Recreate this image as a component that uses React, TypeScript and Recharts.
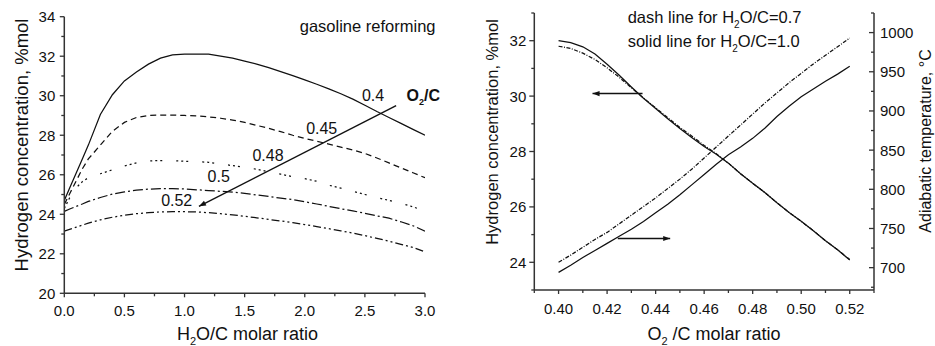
import React from 'react';
import { LineChart, Line, XAxis, YAxis } from 'recharts';

// ---------- Left panel: H2 concentration vs H2O/C for several O2/C ----------
const h2oRatio = [0, 0.05, 0.1, 0.15, 0.2, 0.3, 0.4, 0.5, 0.6, 0.7, 0.8, 0.9, 1.0, 1.1, 1.2, 1.3, 1.4, 1.5, 1.6, 1.7, 1.8, 1.9, 2.0, 2.1, 2.2, 2.3, 2.4, 2.5, 2.6, 2.7, 2.8, 2.9, 3.0];
const h2AtO2C040 = [24.7, 25.4, 26.1, 26.8, 27.5, 29.05, 30.05, 30.75, 31.2, 31.6, 31.9, 32.07, 32.1, 32.1, 32.1, 32.0, 31.9, 31.75, 31.6, 31.42, 31.22, 31.02, 30.8, 30.58, 30.35, 30.1, 29.83, 29.52, 29.2, 28.9, 28.6, 28.3, 28.0];
const h2AtO2C045 = [24.5, 25.1, 25.7, 26.3, 26.8, 27.5, 28.2, 28.65, 28.9, 29.0, 29.02, 29.02, 29.0, 28.98, 28.93, 28.86, 28.77, 28.65, 28.5, 28.35, 28.18, 28.0, 27.84, 27.7, 27.55, 27.4, 27.25, 27.08, 26.85, 26.6, 26.35, 26.1, 25.85];
const h2AtO2C048 = [24.3, 24.9, 25.35, 25.65, 25.85, 26.05, 26.25, 26.45, 26.6, 26.7, 26.72, 26.72, 26.68, 26.66, 26.63, 26.55, 26.46, 26.38, 26.28, 26.15, 26.03, 25.9, 25.8, 25.67, 25.47, 25.32, 25.16, 25.0, 24.85, 24.7, 24.55, 24.38, 24.15];
const h2AtO2C050 = [24.15, 24.28, 24.4, 24.52, 24.65, 24.85, 25.02, 25.13, 25.22, 25.27, 25.3, 25.3, 25.28, 25.24, 25.2, 25.16, 25.12, 25.06, 24.98, 24.9, 24.82, 24.74, 24.63, 24.52, 24.4, 24.28, 24.17, 24.05, 23.92, 23.8, 23.62, 23.42, 23.15];
const h2AtO2C052 = [23.15, 23.25, 23.35, 23.45, 23.55, 23.72, 23.85, 23.95, 24.03, 24.08, 24.12, 24.13, 24.13, 24.12, 24.08, 24.03, 23.97, 23.9, 23.82, 23.74, 23.66, 23.58, 23.48, 23.38, 23.27, 23.16, 23.05, 22.92, 22.78, 22.64, 22.48, 22.32, 22.1];
const o2cArrowX = [1.12, 2.76];
const o2cArrowY = [24.4, 29.5];

const leftXTicks = [0, 0.25, 0.5, 0.75, 1.0, 1.25, 1.5, 1.75, 2.0, 2.25, 2.5, 2.75, 3.0];
const leftXMajor = [0, 0.5, 1.0, 1.5, 2.0, 2.5, 3.0];
const leftYTicks = [20, 21, 22, 23, 24, 25, 26, 27, 28, 29, 30, 31, 32, 33, 34];
const leftYMajor = [20, 22, 24, 26, 28, 30, 32, 34];

// ---------- Right panel: H2 and adiabatic temperature vs O2/C ----------
const o2cRatio = [0.4, 0.405, 0.41, 0.415, 0.42, 0.425, 0.43, 0.435, 0.44, 0.445, 0.45, 0.455, 0.46, 0.465, 0.47, 0.475, 0.48, 0.485, 0.49, 0.495, 0.5, 0.505, 0.51, 0.515, 0.52];
const h2Steam10 = [32.0, 31.93, 31.78, 31.52, 31.15, 30.75, 30.33, 29.92, 29.55, 29.18, 28.83, 28.5, 28.18, 27.9, 27.58, 27.2, 26.85, 26.52, 26.15, 25.8, 25.48, 25.14, 24.78, 24.45, 24.08];
const h2Steam07 = [31.8, 31.72, 31.55, 31.32, 31.02, 30.68, 30.3, 29.93, 29.58, 29.22, 28.87, 28.55, 28.22, 27.92, 27.58, 27.2, 26.85, 26.52, 26.15, 25.8, 25.48, 25.14, 24.78, 24.45, 24.1];
const tempSteam10 = [694, 703, 713, 722, 731, 740, 749, 759, 770, 781, 793, 806, 819, 832, 844, 854, 865, 878, 893, 906, 918, 928, 938, 947, 957];
const tempSteam07 = [707, 716, 726, 736, 745, 756, 767, 778, 789, 801, 813, 826, 840, 854, 868, 882, 896, 910, 923, 936, 948, 960, 971, 982, 993];
const h2ArrowX = [0.414, 0.4346];
const h2ArrowY = [30.09, 30.09];
const tempArrowX = [0.446, 0.4244];
const tempArrowY = [24.86, 24.86];

const rightXTicks = [0.39, 0.40, 0.41, 0.42, 0.43, 0.44, 0.45, 0.46, 0.47, 0.48, 0.49, 0.50, 0.51, 0.52, 0.53];
const rightXMajor = [0.40, 0.42, 0.44, 0.46, 0.48, 0.50, 0.52];
const rightYTicks = [23, 24, 25, 26, 27, 28, 29, 30, 31, 32, 33];
const rightYMajor = [24, 26, 28, 30, 32];
const tempTicks = [675, 700, 725, 750, 775, 800, 825, 850, 875, 900, 925, 950, 975, 1000, 1025];
const tempMajor = [700, 750, 800, 850, 900, 950, 1000];

// ---------- helpers ----------
const FONT = "Arial, 'Liberation Sans', Helvetica, sans-serif";
const INK = '#111';
const AXIS = '#333';

const pts = (xs: number[], ys: number[]) => xs.map((x, i) => ({ x, y: ys[i] }));

type TickOpts = {
  side: 'left' | 'right' | 'bottom';
  majors: number[];
  digits: number;
  majorLen: number;
  minorLen: number;
  gap: number;
  fontSize: number;
};

const makeTick = (o: TickOpts) => (props: any) => {
  const { x, y, payload, index } = props;
  const v = payload.value as number;
  const isMajor = o.majors.some((m) => Math.abs(m - v) < 1e-9);
  const len = isMajor ? o.majorLen : o.minorLen;
  const label = v.toFixed(o.digits);
  if (o.side === 'bottom') {
    return (
      <g key={`t-${index}`}>
        <line x1={x} x2={x} y1={y} y2={y + len} stroke={AXIS} strokeWidth={1.3} />
        {isMajor && (
          <text x={x} y={y + o.gap} textAnchor="middle" fontSize={o.fontSize} fill={INK} fontFamily={FONT}>
            {label}
          </text>
        )}
      </g>
    );
  }
  if (o.side === 'left') {
    return (
      <g key={`t-${index}`}>
        <line x1={x} x2={x - len} y1={y} y2={y} stroke={AXIS} strokeWidth={1.3} />
        {isMajor && (
          <text x={x - o.gap} y={y} dy="0.36em" textAnchor="end" fontSize={o.fontSize} fill={INK} fontFamily={FONT}>
            {label}
          </text>
        )}
      </g>
    );
  }
  // right axis: ticks point inward (to the left)
  return (
    <g key={`t-${index}`}>
      <line x1={x} x2={x - len} y1={y} y2={y} stroke={AXIS} strokeWidth={1.3} />
      {isMajor && (
        <text x={x + o.gap} y={y} dy="0.36em" textAnchor="start" fontSize={o.fontSize} fill={INK} fontFamily={FONT}>
          {label}
        </text>
      )}
    </g>
  );
};

const arrowHead = (props: any) => {
  const { cx, cy, index, points } = props;
  if (index !== 0 || !points || points.length < 2) return <g key={`ah-${index}`} />;
  const p1 = points[1];
  const ang = Math.atan2(cy - p1.y, cx - p1.x);
  const L = 7;
  const W = 2.6;
  const bx = cx - L * Math.cos(ang);
  const by = cy - L * Math.sin(ang);
  const nx = -Math.sin(ang) * W;
  const ny = Math.cos(ang) * W;
  return (
    <polygon
      key={`ah-${index}`}
      points={`${cx},${cy} ${bx + nx},${by + ny} ${bx - nx},${by - ny}`}
      fill={INK}
      stroke="none"
    />
  );
};

const leftX = makeTick({ side: 'bottom', majors: leftXMajor, digits: 1, majorLen: 4, minorLen: 3, gap: 23, fontSize: 15 });
const leftY = makeTick({ side: 'left', majors: leftYMajor, digits: 0, majorLen: 4.5, minorLen: 3, gap: 9, fontSize: 15 });
const rightX = makeTick({ side: 'bottom', majors: rightXMajor, digits: 2, majorLen: 4, minorLen: 3, gap: 24, fontSize: 15 });
const rightYL = makeTick({ side: 'left', majors: rightYMajor, digits: 0, majorLen: 5, minorLen: 3, gap: 8, fontSize: 15 });
const rightYR = makeTick({ side: 'right', majors: tempMajor, digits: 0, majorLen: 5, minorLen: 3, gap: 6, fontSize: 15 });

const lineCommon = { dot: false, isAnimationActive: false, stroke: INK, strokeWidth: 1.25, type: 'linear' as const, legendType: 'none' as const };

export default function App() {
  return (
    <div style={{ position: 'absolute', left: 0, top: 0, width: 935, height: 346, background: '#fff', overflow: 'hidden', fontFamily: FONT }}>
      <div style={{ position: 'absolute', left: 0, top: 0 }}>
        <LineChart width={470} height={346} margin={{ top: 16.7, right: 45, bottom: 0, left: 0 }}>
          <XAxis
            dataKey="x"
            type="number"
            domain={[0, 3]}
            ticks={leftXTicks}
            interval={0}
            tickSize={0}
            tickMargin={0}
            tickLine={false}
            tick={leftX}
            height={52.7}
            stroke={AXIS}
            strokeWidth={1.5}
            allowDataOverflow
          />
          <YAxis
            type="number"
            domain={[20, 34]}
            ticks={leftYTicks}
            interval={0}
            tickSize={0}
            tickMargin={0}
            tickLine={false}
            tick={leftY}
            width={64.3}
            stroke={AXIS}
            strokeWidth={1.5}
            allowDataOverflow
          />
          <Line {...lineCommon} data={pts(h2oRatio, h2AtO2C040)} dataKey="y" name="0.4" />
          <Line {...lineCommon} data={pts(h2oRatio, h2AtO2C045)} dataKey="y" name="0.45" strokeDasharray="6 4" />
          <Line {...lineCommon} data={pts(h2oRatio, h2AtO2C048)} dataKey="y" name="0.48" strokeDasharray="2 3 2 3 2 14" />
          <Line {...lineCommon} data={pts(h2oRatio, h2AtO2C050)} dataKey="y" name="0.5" strokeDasharray="10 3 2 3" />
          <Line {...lineCommon} data={pts(h2oRatio, h2AtO2C052)} dataKey="y" name="0.52" strokeDasharray="8 3 2 3 2 3" />
          <Line {...lineCommon} data={pts(o2cArrowX, o2cArrowY)} dataKey="y" name="arrow" strokeWidth={1.4} dot={arrowHead} />
        </LineChart>
      </div>

      <div style={{ position: 'absolute', left: 470, top: 0 }}>
        <LineChart width={465} height={346} margin={{ top: 13, right: 0, bottom: 0, left: 0 }}>
          <XAxis
            dataKey="x"
            type="number"
            domain={[0.39, 0.53]}
            ticks={rightXTicks}
            interval={0}
            tickSize={0}
            tickMargin={0}
            tickLine={false}
            tick={rightX}
            height={56}
            stroke={AXIS}
            strokeWidth={1.5}
            allowDataOverflow
          />
          <YAxis
            yAxisId="h2"
            type="number"
            domain={[23, 33]}
            ticks={rightYTicks}
            interval={0}
            tickSize={0}
            tickMargin={0}
            tickLine={false}
            tick={rightYL}
            width={64.3}
            stroke={AXIS}
            strokeWidth={1.5}
            allowDataOverflow
          />
          <YAxis
            yAxisId="temp"
            orientation="right"
            type="number"
            domain={[671.5, 1025]}
            ticks={tempTicks}
            interval={0}
            tickSize={0}
            tickMargin={0}
            tickLine={false}
            tick={rightYR}
            width={61}
            stroke={AXIS}
            strokeWidth={1.5}
            allowDataOverflow
          />
          <Line {...lineCommon} yAxisId="h2" data={pts(o2cRatio, h2Steam07)} dataKey="y" name="H2 0.7" strokeDasharray="4 1.5 1 1.5" />
          <Line {...lineCommon} yAxisId="h2" data={pts(o2cRatio, h2Steam10)} dataKey="y" name="H2 1.0" />
          <Line {...lineCommon} yAxisId="temp" data={pts(o2cRatio, tempSteam07)} dataKey="y" name="T 0.7" strokeDasharray="4 1.5 1 1.5" />
          <Line {...lineCommon} yAxisId="temp" data={pts(o2cRatio, tempSteam10)} dataKey="y" name="T 1.0" />
          <Line {...lineCommon} yAxisId="h2" data={pts(h2ArrowX, h2ArrowY)} dataKey="y" name="arrowH2" strokeWidth={1.5} dot={arrowHead} />
          <Line {...lineCommon} yAxisId="h2" data={pts(tempArrowX, tempArrowY)} dataKey="y" name="arrowT" strokeWidth={1.5} dot={arrowHead} />
        </LineChart>
      </div>

      <svg width={935} height={346} style={{ position: 'absolute', left: 0, top: 0, pointerEvents: 'none' }} fontFamily={FONT} fill={INK}>
        {/* left panel texts */}
        <text transform="translate(28,145) rotate(-90)" textAnchor="middle" fontSize={18.5}>Hydrogen concentration, %mol</text>
        <text x={247.5} y={340} textAnchor="middle" fontSize={18}>
          H<tspan fontSize={11} dy={5}>2</tspan><tspan dy={-5}>O/C molar ratio</tspan>
        </text>
        <text x={435.5} y={32} textAnchor="end" fontSize={16.5}>gasoline reforming</text>
        <text x={373} y={100.7} textAnchor="middle" fontSize={16}>0.4</text>
        <text x={321.7} y={134.3} textAnchor="middle" fontSize={16}>0.45</text>
        <text x={268} y={161} textAnchor="middle" fontSize={16}>0.48</text>
        <text x={218.7} y={181.7} textAnchor="middle" fontSize={16}>0.5</text>
        <text x={176.7} y={206} textAnchor="middle" fontSize={16}>0.52</text>
        <text x={406.5} y={100.7} fontSize={16} fontWeight="bold">
          O<tspan fontSize={9} dy={4}>2</tspan><tspan dy={-4}>/C</tspan>
        </text>

        {/* right panel texts */}
        <text x={627.7} y={22.7} fontSize={16.5}>
          dash line for H<tspan fontSize={10} dy={5}>2</tspan><tspan dy={-5}>O/C=0.7</tspan>
        </text>
        <text x={627.7} y={46.7} fontSize={16.5}>
          solid line for H<tspan fontSize={10} dy={5}>2</tspan><tspan dy={-5}>O/C=1.0</tspan>
        </text>
        <text transform="translate(498,132) rotate(-90)" textAnchor="middle" fontSize={16.5}>Hydrogen concentration, %mol</text>
        <text transform="translate(930.5,141) rotate(-90)" textAnchor="middle" fontSize={16}>Adiabatic temperature, °C</text>
        <text x={714} y={340} textAnchor="middle" fontSize={18}>
          O<tspan fontSize={11} dy={5}>2</tspan><tspan dy={-5}> /C molar ratio</tspan>
        </text>
      </svg>
    </div>
  );
}
